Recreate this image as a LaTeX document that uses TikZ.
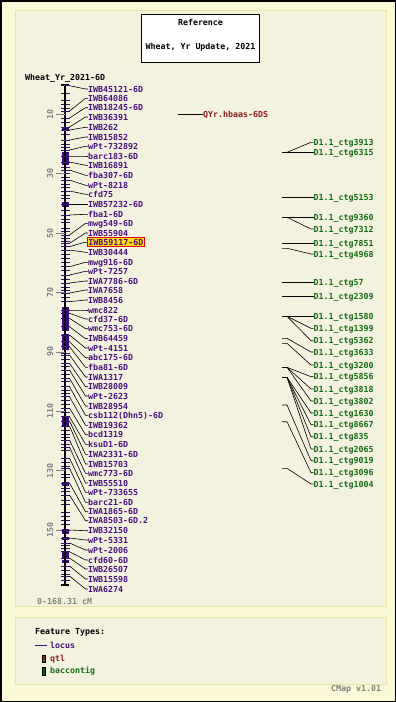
\documentclass[tikz,border=0pt]{standalone}
\usepackage{fontspec}
\newfontfamily\cmmono{DejaVu Sans Mono}
\newcommand\cmfont{\cmmono\bfseries\fontsize{8.3}{10}\selectfont}
\definecolor{outerbg}{RGB}{250,248,214}
\definecolor{panelbg}{RGB}{243,242,222}
\definecolor{panelbd}{RGB}{232,228,165}
\definecolor{locusc}{RGB}{72,16,128}
\definecolor{chromc}{RGB}{58,12,120}
\definecolor{ctgc}{RGB}{20,110,20}
\definecolor{qtlc}{RGB}{140,30,30}
\definecolor{grayc}{RGB}{128,128,128}
\definecolor{hlyel}{RGB}{255,220,0}
\definecolor{hlred}{RGB}{220,0,0}
\definecolor{qtlbox}{RGB}{120,50,50}
\definecolor{ctgbox}{RGB}{20,90,20}
\begin{document}
\begin{tikzpicture}[x=1pt,y=-1pt,
  txt/.style={font=\cmfont, inner sep=0pt, text height=6pt, text depth=0pt},
  mk/.style={txt, text=locusc, anchor=west},
  mkhl/.style={mk, fill=hlyel, draw=hlred, line width=0.8pt, inner xsep=1pt, inner ysep=1.5pt, xshift=-1pt},
  ctg/.style={txt, text=ctgc, anchor=west},
  conn/.style={draw=black, line width=0.6pt},
  tk/.style={draw=chromc, line width=0.9pt},
  blk/.style={fill=chromc},
  panel/.style={fill=panelbg, draw=panelbd, line width=0.8pt}]
\useasboundingbox (0,0) rectangle (396,702);
\fill[outerbg] (0,0) rectangle (396,702);
\draw[black, line width=1.5pt] (0.75,0.75) rectangle (395.25,701.25);
\draw[panel] (15,10) rectangle (386.7,606.7);
\draw[panel] (15,617.3) rectangle (386.7,684);
% title
\node[draw=black, fill=white, line width=0.8pt, minimum width=118pt, minimum height=48.5pt, inner sep=0pt] (title) at (200.5,38.2) {};
\node[txt, text=black] (t1) at (200.5,22.7) {Reference};
\node[txt, text=black] (t2) at (200.5,46) {Wheat, Yr Update, 2021};
\node[txt, text=black, anchor=west] (mapname) at (25,77) {Wheat\_Yr\_2021-6D};
% chromosome blocks
\foreach \a/\b in {126.7/130.5,151.7/165,201.5/206.5,306.5/331,334/350,417/426,481.7/485.5,529/534,536.5/540,552/557.5,559.5/563}
  {\fill[blk] (61.8,\a) rectangle (68.6,\b);}
% extra ticks
\foreach \y in {93,100,104,108,122,134,144,147,167,173,177,184,187,195,198,210,219,222,228,231,238,241,254,258,262,270,279,287,290,297,353,359,366,374,381,390,393,400,404,412,430,434,437,444,450,462,466,474,477,488,491,500,504,512,516,520,524,545,548,570,574,580}
  {\draw[tk] (61,\y) -- (69.5,\y);}
% spine and caps
\coordinate (ctop) at (65.3,85);
\coordinate (cbot) at (65.3,585);
\draw[black, line width=2pt] (ctop) -- (cbot);
\draw[black, line width=1.6pt] ([xshift=-4pt]ctop) -- ([xshift=4pt]ctop);
\draw[black, line width=1.6pt] ([xshift=-4pt]cbot) -- ([xshift=4pt]cbot);
% scale ticks
\foreach \c in {10,30,50,70,90,110,130,150} {
  \coordinate (sc\c) at (65,{84.6+2.97*\c});
  \draw[grayc, line width=0.7pt] ([xshift=-9pt]sc\c) -- (sc\c);
  \node[txt, text=grayc, rotate=90] (sl\c) at ([xshift=-15pt]sc\c) {\c};
}
\node[txt, text=grayc, anchor=west] (range) at (37,601.7) {0-168.31 cM};
% markers
\foreach \lab/\fy/\ly/\st [count=\i] in {
IWB45121-6D/85.7/89/mk, IWB64086/111/98.3/mk, IWB18245-6D/118/107.7/mk, IWB36391/127/117/mk,
IWB262/130/127.3/mk, IWB15852/140/137/mk, wPt-732892/150/146.3/mk, barc183-6D/156/156/mk,
IWB16891/162/165.3/mk, fba307-6D/170/175.3/mk, wPt-8218/180/185.3/mk, cfd75/191/194.3/mk,
IWB57232-6D/204.3/204.3/mk, fba1-6D/215/214.3/mk, mwg549-6D/235/223.3/mk, IWB55904/243.3/233/mk,
IWB59117-6D/246.7/242.3/mkhl, IWB30444/250/252.3/mk, mwg916-6D/266.7/262.3/mk, wPt-7257/275/271.3/mk,
IWA7786-6D/283/281/mk, IWA7658/293/290/mk, IWB8456/301.7/300/mk, wmc822/310/310/mk,
cfd37-6D/313.3/319/mk, wmc753-6D/318.3/328.7/mk, IWB64459/326.7/338.7/mk, wPt-4151/335/348/mk,
abc175-6D/341.7/357.7/mk, fba81-6D/346.7/367.3/mk, IWA1317/355/377/mk, IWB28009/363.3/386.7/mk,
wPt-2623/370/396/mk, IWB28954/378.3/406/mk, csb112(Dhn5)-6D/386.7/415.3/mk, IWB19362/396.7/425.3/mk,
bcd1319/408/434.7/mk, ksuD1-6D/416.7/444.3/mk, IWA2331-6D/421/454.3/mk, IWB15703/426/464/mk,
wmc773-6D/440/473.3/mk, IWB55510/447/483/mk, wPt-733655/458/492.3/mk, barc21-6D/468/502.3/mk,
IWA1865-6D/483/511.7/mk, IWA8503-6D.2/495/520.7/mk, IWB32150/530/530.7/mk, wPt-5331/538/540/mk,
wPt-2006/543/550/mk, cfd60-6D/551.7/560/mk, IWB26507/558/569/mk, IWB15598/566/579/mk, IWA6274/576/589/mk} {
  \draw[tk] (61,\fy) -- (69.5,\fy);
  \coordinate (f\i) at (69.5,\fy);
  \node[\st] (m\i) at (88,\ly) {\lab};
  \draw[conn] (f\i) -- ([xshift=-2.5pt]m\i.west) -- (m\i.west);
}
% qtl
\coordinate (qf) at (178,114.3);
\node[txt, text=qtlc, anchor=west] (q1) at (203,114.3) {QYr.hbaas-6DS};
\draw[conn] (qf) -- (q1.west);
% contigs
\foreach \lab/\fy/\ly [count=\i] in {
3913/152.3/142.3, 6315/152.3/152.3, 5153/197.7/197.7, 9360/217.3/217.3, 7312/217.3/229,
7851/243.3/243.3, 4968/248.3/254, 57/282.3/282.3, 2309/296.7/296.7, 1580/316.3/316.3,
1399/316.3/328.3, 5362/316.3/340.7, 3633/338.3/352, 3200/343.3/365, 5856/367.3/376.7,
3818/367.3/389, 3802/367.3/401, 1630/377.3/413, 8667/377.3/424.7, 835/377.3/436.7,
2065/377.3/449, 9019/405/460.7, 3096/421.7/472.7, 1004/468.3/484} {
  \coordinate (cf\i) at (282,\fy);
  \node[ctg] (c\i) at (313.5,\ly) {D1.1\_ctg\lab};
  \draw[conn] (cf\i) -- ++(5,0) -- ([xshift=-2.5pt]c\i.west) -- (c\i.west);
}
% legend
\node[txt, text=black, anchor=west] (lg) at (35,631.7) {Feature Types:};
\coordinate (la) at (35,645);
\node[txt, text=locusc, anchor=west] (ll) at (50,645) {locus};
\draw[locusc, line width=0.9pt] (la) -- ([xshift=-3pt]ll.west);
\node[draw=black, fill=qtlbox, line width=0.6pt, minimum width=3pt, minimum height=7pt, inner sep=0pt] (lq) at (44,658.4) {};
\node[txt, text=qtlc, anchor=west] (lqt) at (50,658.4) {qtl};
\node[draw=black, fill=ctgbox, line width=0.6pt, minimum width=3pt, minimum height=8pt, inner sep=0pt] (lc) at (44,670.8) {};
\node[txt, text=ctgc, anchor=west] (lct) at (50,670.8) {baccontig};
\node[txt, text=grayc, anchor=west] (ver) at (331,688) {CMap v1.01};
\end{tikzpicture}
\end{document}
